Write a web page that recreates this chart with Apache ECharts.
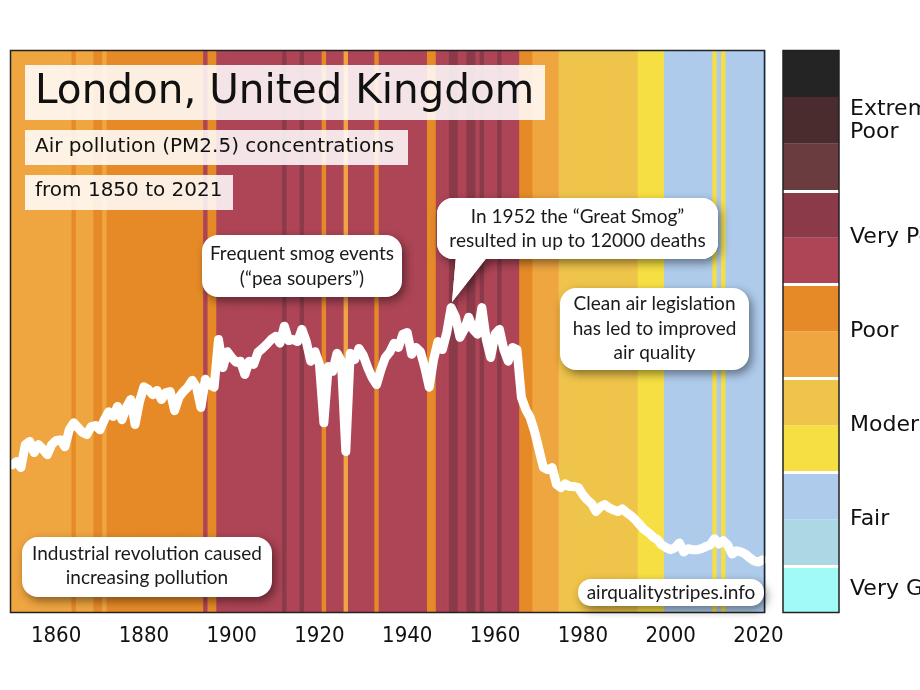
<!DOCTYPE html>
<html>
<head>
    <meta charset="utf-8" />
    <title>London air quality stripes</title>
    <script src="https://cdn.jsdelivr.net/npm/echarts@6/dist/echarts.min.js"></script>
    <style>html, body { margin: 0; padding: 0; background: #fff; }</style>
</head>
<body>
    <div id="chart" style="width:920px;height:690px;"></div>
    <script>
        // years 1850..2021
        var firstYear = 1850, lastYear = 2021;
        var years = [];
        for (var y = firstYear; y <= lastYear; y++) years.push(String(y));

        // PM2.5 (ug/m3), one row per decade
        var pm25 = [
            27.9, 28.5, 27.4, 31.7, 32.3, 30.2, 31.7, 30.8, 29.8, 31.7,
            32.5, 32.6, 31.3, 34.5, 35.8, 34.9, 34.0, 33.6, 35.1, 35.3,
            34.5, 36.4, 37.9, 37.0, 38.9, 36.4, 38.7, 40.2, 35.5, 39.8,
            42.6, 42.1, 41.1, 41.9, 40.2, 41.5, 41.7, 38.1, 40.6, 41.7,
            42.5, 43.8, 42.5, 38.7, 44.0, 43.0, 42.5, 51.5, 46.2, 49.2,
            48.1, 47.2, 47.4, 44.9, 47.4, 46.8, 49.1, 49.8, 50.6, 51.5,
            52.1, 50.8, 54.0, 51.3, 51.5, 51.1, 53.4, 51.1, 47.4, 49.2,
            46.8, 35.8, 46.4, 45.5, 48.9, 47.4, 30.4, 48.9, 47.7, 49.8,
            48.5, 46.2, 44.3, 43.0, 45.8, 48.1, 49.1, 50.8, 50.0, 52.5,
            52.8, 48.7, 50.0, 49.2, 46.2, 42.5, 47.7, 51.1, 49.6, 52.8,
            57.5, 55.7, 51.9, 53.4, 55.7, 53.4, 52.5, 57.5, 51.5, 48.1,
            52.5, 53.4, 49.6, 47.4, 50.0, 49.6, 40.6, 38.3, 36.8, 34.2,
            30.8, 27.4, 27.0, 27.4, 24.2, 23.6, 24.3, 23.8, 23.8, 23.6,
            22.3, 21.3, 20.6, 19.1, 20.0, 20.4, 19.8, 19.4, 19.1, 19.6,
            18.9, 18.3, 17.5, 16.6, 15.7, 15.1, 14.3, 13.8, 12.8, 12.3,
            11.9, 12.3, 13.2, 11.5, 12.1, 11.9, 11.9, 12.1, 12.5, 12.8,
            14.0, 13.0, 13.6, 12.8, 11.1, 11.7, 11.5, 11.1, 10.4, 9.8,
            9.6, 10.0
        ];

        // stripe class per year (index into levelColors), one row per decade
        var stripeLevel = [
            5, 5, 5, 5, 5, 5, 5, 5, 5, 5,
            5, 5, 5, 5, 6, 5, 5, 5, 5, 6,
            6, 5, 6, 6, 6, 6, 6, 6, 6, 6,
            6, 6, 6, 6, 6, 6, 6, 6, 6, 6,
            6, 6, 6, 6, 7, 6, 6, 7, 7, 7,
            7, 7, 7, 7, 7, 7, 7, 7, 7, 7,
            7, 7, 8, 7, 7, 7, 8, 7, 7, 7,
            7, 6, 7, 7, 7, 7, 5, 7, 7, 7,
            7, 7, 7, 6, 7, 7, 7, 7, 7, 7,
            7, 7, 7, 7, 7, 6, 6, 7, 7, 7,
            8, 8, 7, 7, 8, 8, 7, 8, 7, 7,
            7, 8, 7, 7, 7, 7, 6, 6, 6, 5,
            5, 5, 5, 5, 5, 4, 4, 4, 4, 4,
            4, 4, 4, 4, 4, 4, 4, 4, 4, 4,
            4, 4, 4, 3, 3, 3, 3, 3, 3, 2,
            2, 2, 2, 2, 2, 2, 2, 2, 2, 2,
            3, 2, 3, 2, 2, 2, 2, 2, 2, 2,
            2, 2
        ];

        // colour scale, from very good (bottom) to extremely poor (top)
        var levelColors = [
            '#a2faf7', '#acd8e3', '#aecbeb', '#f6df43', '#efc44a', '#efa540',
            '#e68a27', '#ad4556', '#8b3a4a', '#6a3b3f', '#4a2b2e', '#242424'
        ];
        var groupBreaks = [1, 3, 5, 7, 9];
        var groupLabels = { '0.5': 'Very Good', '2': 'Fair', '4': 'Moderate', '6': 'Poor', '8': 'Very Poor', '10.5': 'Extremely\nPoor' };

        var tickYears = ['1860', '1880', '1900', '1920', '1940', '1960', '1980', '2000', '2020'];

        var calloutFont = '19px Lato';
        var headFont = 'DejaVu Sans';

        var stripeData = stripeLevel.map(function (lv, i) { return [i, 1, lv]; });

        var colorbarSeries = levelColors.map(function (c, i) {
            var s = {
                type: 'bar', stack: 'cb', xAxisIndex: 1, yAxisIndex: 2,
                data: [1], barWidth: '100%', itemStyle: { color: c }, silent: true
            };
            if (i === levelColors.length - 1) {
                s.markLine = {
                    silent: true, symbol: 'none', label: { show: false },
                    lineStyle: { color: '#fff', width: 3, type: 'solid' },
                    data: groupBreaks.map(function (b) { return { yAxis: b }; })
                };
            }
            return s;
        });

        // ---- overlays: title boxes and callouts
        var gfx = [];
        function titleBox(x, y, w, h, text, size, ty) {
            gfx.push({ type: 'rect', z: 100, silent: true, shape: { x: x, y: y, width: w, height: h }, style: { fill: 'rgba(255,255,255,0.86)' } });
            gfx.push({ type: 'text', z: 101, silent: true, style: { text: text, x: 35, y: ty, font: size + 'px ' + headFont, fill: '#111', textAlign: 'left', textVerticalAlign: 'middle', align: 'left', verticalAlign: 'middle' } });
        }
        function callout(x, y, w, h, r, lines, lineYs, tail) {
            var shadow = { shadowBlur: 10, shadowColor: 'rgba(0,0,0,0.45)', shadowOffsetX: 3, shadowOffsetY: 4 };
            gfx.push({ type: 'rect', z: 100, silent: true, shape: { x: x, y: y, width: w, height: h, r: r }, style: Object.assign({ fill: '#fff' }, shadow) });
            if (tail) {
                gfx.push({ type: 'polygon', z: 100, silent: true, shape: { points: tail }, style: Object.assign({ fill: '#fff' }, shadow) });
                gfx.push({ type: 'polygon', z: 102, silent: true, shape: { points: tail }, style: { fill: '#fff' } });
                gfx.push({ type: 'rect', z: 102, silent: true, shape: { x: x, y: y, width: w, height: h, r: r }, style: { fill: '#fff' } });
            }
            lines.forEach(function (t, i) {
                gfx.push({ type: 'text', z: 103, silent: true, style: { text: t, x: x + w / 2, y: lineYs[i], font: calloutFont, fill: '#1a1a1a', textAlign: 'center', textVerticalAlign: 'middle', align: 'center', verticalAlign: 'middle' } });
            });
        }

        titleBox(25, 65, 520, 55, 'London, United Kingdom', 40.5, 92);
        titleBox(25, 130, 383, 35, 'Air pollution (PM2.5) concentrations', 20, 147);
        titleBox(25, 175, 208, 35, 'from 1850 to 2021', 20, 191);

        callout(202, 235, 200, 62, 16, ['Frequent smog events', '(\u201Cpea soupers\u201D)'], [254, 279]);
        callout(437, 198, 281, 61, 16, ['In 1952 the \u201CGreat Smog\u201D', 'resulted in up to 12000 deaths'], [217, 241],
            [[456, 256], [488, 256], [452, 302]]);
        callout(560, 288, 189, 82, 16, ['Clean air legislation', 'has led to improved', 'air quality'], [304, 329, 353]);
        callout(22, 537, 250, 60, 16, ['Industrial revolution caused', 'increasing pollution'], [554, 578]);
        callout(578, 579, 186, 27, 13, ['airqualitystripes.info'], [593]);

        // frames
        gfx.push({ type: 'rect', z: 90, silent: true, shape: { x: 10.5, y: 50.5, width: 754, height: 562 }, style: { fill: null, stroke: '#222', lineWidth: 1.5 } });
        gfx.push({ type: 'rect', z: 90, silent: true, shape: { x: 783, y: 50.5, width: 56, height: 562 }, style: { fill: null, stroke: '#222', lineWidth: 1.5 } });

        var chart = echarts.init(document.getElementById('chart'), null, { renderer: 'canvas' });
        chart.setOption({
            animation: false,
            backgroundColor: '#fff',
            grid: [
                { left: 10, top: 50, width: 755, height: 563, containLabel: false, outerBoundsMode: 'none' },
                { left: 783, top: 50, width: 56, height: 563, containLabel: false, outerBoundsMode: 'none' }
            ],
            xAxis: [
                {
                    type: 'category', gridIndex: 0, data: years, boundaryGap: true,
                    axisLine: { show: false }, axisTick: { show: false },
                    axisLabel: {
                        interval: function (idx, val) { return tickYears.indexOf(val) >= 0; },
                        color: '#111', fontSize: 22, margin: 12,
                        fontFamily: "'DejaVu Sans Condensed', 'DejaVu Sans'"
                    }
                },
                { type: 'category', gridIndex: 1, data: [''], show: false }
            ],
            yAxis: [
                { type: 'value', gridIndex: 0, min: 0, max: 106, show: false },
                { type: 'value', gridIndex: 0, min: 0, max: 1, show: false },
                {
                    type: 'value', gridIndex: 1, min: 0, max: 12, interval: 0.5, position: 'right',
                    axisLine: { show: false }, axisTick: { show: false }, splitLine: { show: false },
                    axisLabel: {
                        margin: 11, color: '#111', fontSize: 22, fontFamily: headFont, lineHeight: 23,
                        formatter: function (v) { return groupLabels[String(v)] || ''; }
                    }
                }
            ],
            series: [
                {
                    type: 'custom', name: 'stripes', xAxisIndex: 0, yAxisIndex: 1, z: 1, silent: true,
                    data: stripeData, encode: { x: 0, y: 1 },
                    renderItem: function (params, api) {
                        var top = api.coord([api.value(0), api.value(1)]);
                        var size = api.size([1, api.value(1)]);
                        return {
                            type: 'rect',
                            shape: { x: top[0] - size[0] / 2, y: top[1], width: size[0] + 0.8, height: size[1] },
                            style: { fill: levelColors[api.value(2)] }
                        };
                    }
                },
                {
                    type: 'line', name: 'PM2.5', xAxisIndex: 0, yAxisIndex: 0, z: 5,
                    data: pm25, symbol: 'none', silent: true,
                    lineStyle: { color: '#fff', width: 9, cap: 'round', join: 'round' }
                }
            ].concat(colorbarSeries),
            graphic: gfx
        });
    </script>
</body>
</html>
